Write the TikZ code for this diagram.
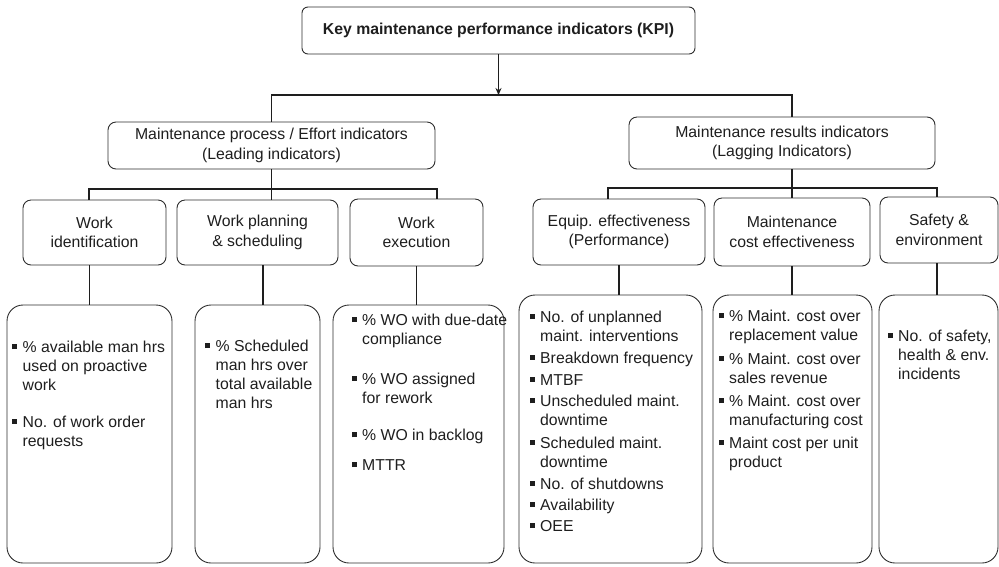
\documentclass[tikz,border=0pt]{standalone}
\usepackage{fontspec}
\setmainfont{Liberation Sans}
\usetikzlibrary{arrows.meta,calc}
\definecolor{ink}{HTML}{1E1E1E}
\definecolor{edge}{HTML}{2E2E2E}
\newcommand\sqb{\rule[3.5pt]{5pt}{5pt}}
\newcommand\blist[1]{\begin{tabular}[t]{@{}l@{\hspace{5.5pt}}l@{}}#1\end{tabular}}
\tikzset{
  box/.style={draw=edge, line width=0.9pt, rounded corners=8pt, inner sep=0pt,
    align=center, text=ink, font=\fontsize{15.8}{19.5}\selectfont},
  bigbox/.style={draw=edge, line width=0.9pt, rounded corners=16pt, inner sep=0pt},
  lst/.style={inner sep=0pt, text=ink, anchor=base west, font=\fontsize{15.8}{18.8}\selectfont},
  conn/.style={draw=ink, line width=1.9pt},
  thinarrow/.style={draw=ink, line width=0.9pt, -{Stealth[length=7pt,width=6pt]}}
}
\begin{document}
\begin{tikzpicture}[x=1pt,y=-1pt]
\useasboundingbox (0,0) rectangle (999,566);
% title
\node[box, rounded corners=6pt, minimum width=393pt, minimum height=47pt,
  font=\fontsize{15.8}{19.5}\selectfont\bfseries] (kpi) at (498.5,30.5)
  {Key maintenance performance indicators (KPI)};
% level 2
\node[box, minimum width=327pt, minimum height=47pt] (mL) at (271.5,145.5)
  {Maintenance process / Effort indicators\\(Leading indicators)};
\node[box, minimum width=306pt, minimum height=52pt] (mR) at (782,143)
  {Maintenance results indicators\\(Lagging Indicators)};
% level 3
\node[box, minimum width=143pt, minimum height=65pt] (wi) at (94.5,232.5) {Work\\identification};
\node[box, minimum width=161pt, minimum height=65pt] (wp) at (257.5,232.5) {Work planning\\\& scheduling};
\node[box, minimum width=133pt, minimum height=67pt] (we) at (416.5,232.5) {Work\\execution};
\node[box, minimum width=172pt, minimum height=66pt] (eq) at (619,232) {Equip. effectiveness\\(Performance)};
\node[box, minimum width=156pt, minimum height=68pt] (mc) at (792,232) {Maintenance\\cost effectiveness};
\node[box, minimum width=118pt, minimum height=66pt] (se) at (939,230) {Safety \&\\environment};
% level 4 boxes
\node[bigbox, minimum width=165pt, minimum height=258pt] (la) at (89.5,434) {};
\node[bigbox, minimum width=125pt, minimum height=258pt] (lb) at (257.5,434) {};
\node[bigbox, minimum width=171pt, minimum height=258pt] (lc) at (418.5,434) {};
\node[bigbox, minimum width=183pt, minimum height=268pt] (ld) at (610.5,429) {};
\node[bigbox, minimum width=159pt, minimum height=268pt] (le) at (792.5,429) {};
\node[bigbox, minimum width=119pt, minimum height=268pt] (lf) at (938.5,429) {};
% level 4 texts
\node[lst] (ta) at (12,352.7) {\blist{\sqb & \% available man hrs\\ & used on proactive\\ & work\\[18.3pt]
  \sqb & No. of work order\\ & requests}};
\node[lst] (tb) at (205,351.7) {\blist{\sqb & \% Scheduled\\ & man hrs over\\ & total available\\ & man hrs}};
\node[lst] (tc) at (351.5,325.7) {\blist{\sqb & \% WO with due-date\\ & compliance\\[21pt]
  \sqb & \% WO assigned\\ & for rework\\[19pt] \sqb & \% WO in backlog\\[11pt] \sqb & MTTR}};
\node[lst] (td) at (529.5,322.7) {\blist{\sqb & No. of unplanned\\ & maint. interventions\\[3pt]
  \sqb & Breakdown frequency\\[3pt] \sqb & MTBF\\[3pt] \sqb & Unscheduled maint.\\ & downtime\\[4pt]
  \sqb & Scheduled maint.\\ & downtime\\[3pt] \sqb & No. of shutdowns\\[2.5pt] \sqb & Availability\\[2.5pt]
  \sqb & OEE}};
\node[lst] (te) at (718.5,321.7) {\blist{\sqb & \% Maint. cost over\\ & replacement value\\[5pt]
  \sqb & \% Maint. cost over\\ & sales revenue\\[5pt] \sqb & \% Maint. cost over\\ & manufacturing cost\\[4pt]
  \sqb & Maint cost per unit\\ & product}};
\node[lst] (tf) at (887.5,341.7) {\blist{\sqb & No. of safety,\\ & health \& env.\\ & incidents}};
% connectors
\coordinate (b1) at (498.5,95);
\draw[thinarrow] (kpi.south) -- (b1);
\draw[conn] (mL.north) |- (b1) -| ([xshift=10pt]mR.north);
\draw[conn] (mL.south) -- (mL.south |- wp.north);
\coordinate (b2a) at (89,189);
\coordinate (b2b) at (437,189);
\draw[conn] (wi.north -| b2a) |- (b2b) -- (b2b |- we.north);
\coordinate (d1) at ([xshift=10pt]mR.south);
\draw[conn] (d1) -- (d1 |- mc.north);
\coordinate (b3a) at (608,188);
\coordinate (b3b) at (937,188);
\draw[conn] (eq.north -| b3a) |- (b3b) -- (b3b |- se.north);
\draw[conn] (la.north) -- (la.north |- wi.south);
\coordinate (d2) at ([xshift=5.5pt]wp.south);
\draw[conn] (d2) -- (d2 |- lb.north);
\draw[conn] (we.south) -- (we.south |- lc.north);
\draw[conn] (eq.south) -- (eq.south |- ld.north);
\draw[conn] (mc.south) -- (mc.south |- le.north);
\coordinate (d3) at ([xshift=-2pt]se.south);
\draw[conn] (d3) -- (d3 |- lf.north);
\end{tikzpicture}
\end{document}
